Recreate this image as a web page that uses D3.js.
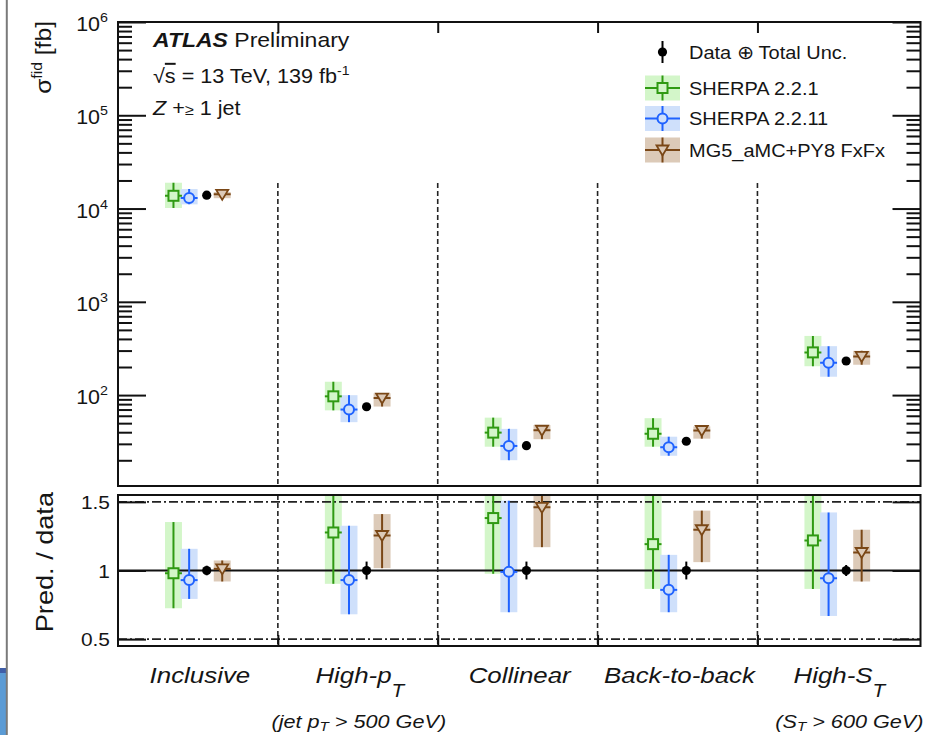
<!DOCTYPE html>
<html>
<head>
<meta charset="utf-8">
<script src="https://cdn.jsdelivr.net/npm/d3@7"></script>
<style>
  body { margin: 0; background: #fff; }
  svg { display: block; }
  text { font-family: "Liberation Sans", Arial, Helvetica, sans-serif; fill: #151515; }
</style>
</head>
<body>
<svg id="chart" width="929" height="735"></svg>
<script>
// ---- data -------------------------------------------------------------
const categories   = ["Inclusive", "High-p", "Collinear", "Back-to-back", "High-S"];
const categorySubs = ["", "T", "", "", "T"];
const categoryNote = ["", ["(jet p", "T", " > 500 GeV)"], "", "", ["(S", "T", " > 600 GeV)"]];

// fiducial cross sections [fb]
const xsecData     = [13900, 75, 28.7, 32.0, 232];
const xsecSherpa221  = [13700, 97, 39.6, 38.5, 287];
const xsecSherpa2211 = [13000, 70, 28.5, 27.6, 222];
const xsecMG5        = [14200, 93, 42.0, 41.7, 260];

// prediction / data ratios and their uncertainty envelopes
const ratioSherpa221   = [0.98, 1.277, 1.382, 1.192, 1.219];
const ratioSherpa221Lo = [0.725, 0.903, 0.976, 0.866, 0.866];
const ratioSherpa221Hi = [1.353, 1.83, 2.00, 1.75, 1.83];
const ratioSherpa2211   = [0.93, 0.93, 0.99, 0.859, 0.944];
const ratioSherpa2211Lo = [0.793, 0.681, 0.696, 0.696, 0.669];
const ratioSherpa2211Hi = [1.158, 1.326, 1.509, 1.114, 1.423];
const ratioMG5   = [1.012, 1.255, 1.46, 1.297, 1.131];
const ratioMG5Lo = [0.92, 1.017, 1.17, 1.061, 0.92];
const ratioMG5Hi = [1.073, 1.411, 1.66, 1.436, 1.297];
const dataRelErr = [0.035, 0.065, 0.065, 0.065, 0.04];

const yMajorTicks = [1e2, 1e3, 1e4, 1e5, 1e6];
const ratioTicks  = [0.5, 1, 1.5];
const legendLabels = ["Data \u2295 Total Unc.", "SHERPA 2.2.1", "SHERPA 2.2.11", "MG5_aMC+PY8 FxFx"];

// ---- styling ----------------------------------------------------------
const predictions = [
  { name: legendLabels[1], xsec: xsecSherpa221, r: ratioSherpa221, lo: ratioSherpa221Lo, hi: ratioSherpa221Hi,
    line: "#2f9a12", band: "#d3f6c9", marker: "square", off: -0.153 },
  { name: legendLabels[2], xsec: xsecSherpa2211, r: ratioSherpa2211, lo: ratioSherpa2211Lo, hi: ratioSherpa2211Hi,
    line: "#1f62ff", band: "#cfe0fb", marker: "circle", off: -0.055 },
  { name: legendLabels[3], xsec: xsecMG5, r: ratioMG5, lo: ratioMG5Lo, hi: ratioMG5Hi,
    line: "#7a4716", band: "#dccab8", marker: "triangle", off: 0.152 }
];
const dataOff = 0.055;
const halfBand = 0.053;

const svg = d3.select("#chart");
const FONT_SX = 1.13;

// frame geometry
const L = 118, R = 920.5;
const T1 = 22, B1 = 486;   // upper panel
const T2 = 495, B2 = 646;  // ratio panel

const x = d3.scaleLinear().domain([0, 5.02]).range([L, R]);
const y = d3.scaleLog().domain([10.6, 1e6]).range([B1, T1]);
const yr = d3.scaleLinear().domain([0.45, 1.55]).range([B2, T2]);

// decorations at the left border
svg.append("rect").attr("x", 0).attr("y", 668).attr("width", 6).attr("height", 67).attr("fill", "#5b9bd5");
svg.append("rect").attr("x", 0).attr("y", 668).attr("width", 6).attr("height", 5).attr("fill", "#3f5ea8");
svg.append("line").attr("x1", 6.8).attr("x2", 6.8).attr("y1", 0).attr("y2", 735)
  .attr("stroke", "#7a7a7a").attr("stroke-width", 2);

// helper for horizontally stretched text
function txt(g, px, py, size, opts = {}) {
  const rot = opts.rotate ? ` rotate(${opts.rotate})` : "";
  return g.append("text")
    .attr("transform", `translate(${px},${py})${rot} scale(${opts.sx || FONT_SX},1)`)
    .attr("font-size", size)
    .attr("text-anchor", opts.anchor || "start")
    .attr("font-style", opts.italic ? "italic" : null);
}

// clip paths
const defs = svg.append("defs");
defs.append("clipPath").attr("id", "clipTop").append("rect").attr("x", L).attr("y", T1).attr("width", R - L).attr("height", B1 - T1);
defs.append("clipPath").attr("id", "clipRat").append("rect").attr("x", L).attr("y", T2).attr("width", R - L).attr("height", B2 - T2);

// ---- axes ticks -----------------------------------------------------------
function minorLogTicks() {
  const out = [];
  for (let e = 1; e < 6; e++) for (let k = 2; k <= 9; k++) {
    const v = k * Math.pow(10, e);
    if (v > y.domain()[0] && v < y.domain()[1]) out.push(v);
  }
  return out;
}
function styleAxis(g) {
  g.select(".domain").remove();
  g.selectAll("line").attr("stroke", "#111").attr("stroke-width", 2);
  g.selectAll("text").remove();
}
const upperAxes = svg.append("g");
upperAxes.append("g").attr("transform", `translate(${L},0)`).call(d3.axisLeft(y).tickValues(yMajorTicks).tickSize(-28)).call(styleAxis);
upperAxes.append("g").attr("transform", `translate(${L},0)`).call(d3.axisLeft(y).tickValues(minorLogTicks()).tickSize(-14)).call(styleAxis);
upperAxes.append("g").attr("transform", `translate(${R},0)`).call(d3.axisRight(y).tickValues(yMajorTicks).tickSize(-28)).call(styleAxis);
upperAxes.append("g").attr("transform", `translate(${R},0)`).call(d3.axisRight(y).tickValues(minorLogTicks()).tickSize(-14)).call(styleAxis);
upperAxes.append("g").attr("transform", `translate(0,${T1})`).call(d3.axisTop(x).tickValues([1, 2, 3, 4]).tickSize(-11)).call(styleAxis);

// category separators
[1, 2, 3, 4].forEach(b => {
  upperAxes.append("line").attr("x1", x(b)).attr("x2", x(b)).attr("y1", 183).attr("y2", B1)
    .attr("stroke", "#222").attr("stroke-width", 1.6).attr("stroke-dasharray", "5,3");
});

// y tick labels (10^n)
yMajorTicks.forEach(v => {
  const t = txt(svg, 108, y(v) + 9, 19.5, { anchor: "end", sx: 1.1 });
  t.append("tspan").text("10");
  t.append("tspan").attr("dy", -9).attr("font-size", 13).text(Math.round(Math.log10(v)));
});

// ---- markers ------------------------------------------------------------
function marker(g, type, cx, cy, color, fill) {
  if (type === "square") {
    g.append("rect").attr("x", cx - 5).attr("y", cy - 5).attr("width", 10).attr("height", 10)
      .attr("fill", fill).attr("stroke", color).attr("stroke-width", 2);
  } else if (type === "circle") {
    g.append("circle").attr("cx", cx).attr("cy", cy).attr("r", 5)
      .attr("fill", fill).attr("stroke", color).attr("stroke-width", 2);
  } else if (type === "triangle") {
    g.append("path").attr("d", `M${cx - 6},${cy - 4.5}L${cx + 6},${cy - 4.5}L${cx},${cy + 5.5}Z`)
      .attr("fill", fill).attr("stroke", color).attr("stroke-width", 1.8).attr("stroke-linejoin", "miter");
  } else if (type === "dot") {
    g.append("circle").attr("cx", cx).attr("cy", cy).attr("r", 4.6).attr("fill", color);
  }
}

function drawPrediction(g, p, i, yScale, val, lo, hi) {
  const cx = x(i + 0.5 + p.off);
  const xl = x(i + 0.5 + p.off - halfBand), xr = x(i + 0.5 + p.off + halfBand);
  g.append("rect").attr("x", xl).attr("width", xr - xl)
    .attr("y", yScale(hi)).attr("height", yScale(lo) - yScale(hi)).attr("fill", p.band);
  return { cx, xl, xr, yv: yScale(val), ylo: yScale(lo), yhi: yScale(hi) };
}
function drawBars(g, p, geo) {
  g.append("line").attr("x1", geo.cx).attr("x2", geo.cx).attr("y1", geo.yhi).attr("y2", geo.ylo)
    .attr("stroke", p.line).attr("stroke-width", 2);
  g.append("line").attr("x1", geo.xl).attr("x2", geo.xr).attr("y1", geo.yv).attr("y2", geo.yv)
    .attr("stroke", p.line).attr("stroke-width", 2);
  marker(g, p.marker, geo.cx, geo.yv, p.line, p.band);
}

// ---- upper panel ----------------------------------------------------------
const gTop = svg.append("g").attr("clip-path", "url(#clipTop)");
const topGeo = predictions.map(p => categories.map((c, i) => {
  const v = p.xsec[i];
  return drawPrediction(gTop, p, i, y, v, v * p.lo[i] / p.r[i], v * p.hi[i] / p.r[i]);
}));
predictions.forEach((p, k) => categories.forEach((c, i) => drawBars(gTop, p, topGeo[k][i])));
categories.forEach((c, i) => {
  const cx = x(i + 0.5 + dataOff), v = xsecData[i];
  gTop.append("line").attr("x1", cx).attr("x2", cx)
    .attr("y1", y(v * (1 + dataRelErr[i]))).attr("y2", y(v * (1 - dataRelErr[i])))
    .attr("stroke", "#000").attr("stroke-width", 2);
  marker(gTop, "dot", cx, y(v), "#000");
});

svg.append("rect").attr("x", L).attr("y", T1).attr("width", R - L).attr("height", B1 - T1)
  .attr("fill", "none").attr("stroke", "#111").attr("stroke-width", 2);

// ---- ratio panel ----------------------------------------------------------
const rat = svg.append("g");
const gRat = rat.append("g").attr("clip-path", "url(#clipRat)");
const ratGeo = predictions.map(p => categories.map((c, i) => drawPrediction(gRat, p, i, yr, p.r[i], p.lo[i], p.hi[i])));

// reference lines
gRat.append("line").attr("x1", L).attr("x2", R).attr("y1", yr(1)).attr("y2", yr(1))
  .attr("stroke", "#111").attr("stroke-width", 1.8);
[0.5, 1.5].forEach(v => {
  gRat.append("line").attr("x1", L).attr("x2", R).attr("y1", yr(v)).attr("y2", yr(v))
    .attr("stroke", "#222").attr("stroke-width", 1.6).attr("stroke-dasharray", "9,3,2,3");
});
[1, 2, 3, 4].forEach(b => {
  gRat.append("line").attr("x1", x(b)).attr("x2", x(b)).attr("y1", T2).attr("y2", B2)
    .attr("stroke", "#222").attr("stroke-width", 1.6).attr("stroke-dasharray", "5,3");
});
rat.append("g").attr("transform", `translate(${L},0)`).call(d3.axisLeft(yr).tickValues(ratioTicks).tickSize(-28)).call(styleAxis);
rat.append("g").attr("transform", `translate(${R},0)`).call(d3.axisRight(yr).tickValues(ratioTicks).tickSize(-28)).call(styleAxis);
rat.append("g").attr("transform", `translate(0,${B2})`).call(d3.axisBottom(x).tickValues([1, 2, 3, 4]).tickSize(-11)).call(styleAxis);

predictions.forEach((p, k) => categories.forEach((c, i) => drawBars(gRat, p, ratGeo[k][i])));
categories.forEach((c, i) => {
  const cx = x(i + 0.5 + dataOff);
  gRat.append("line").attr("x1", cx).attr("x2", cx)
    .attr("y1", yr(1 + dataRelErr[i])).attr("y2", yr(1 - dataRelErr[i]))
    .attr("stroke", "#000").attr("stroke-width", 2);
  marker(gRat, "dot", cx, yr(1), "#000");
});

rat.append("rect").attr("x", L).attr("y", T2).attr("width", R - L).attr("height", B2 - T2)
  .attr("fill", "none").attr("stroke", "#111").attr("stroke-width", 2);

ratioTicks.forEach(v => {
  txt(svg, 110, yr(v) + 7, 19, { anchor: "end", sx: 1.1 }).text(String(v));
});

// ---- axis titles ----------------------------------------------------------
{
  const t = txt(svg, 51, 21, 22, { anchor: "end", rotate: -90, sx: 1.12 });
  t.append("tspan").text("\u03c3");
  t.append("tspan").attr("dy", -9).attr("font-size", 14).text("fid");
  t.append("tspan").attr("dy", 9).text(" [fb]");
}
txt(svg, 53, 492, 23, { anchor: "end", rotate: -90, sx: 1.18 }).text("Pred. / data");

// category labels
categories.forEach((c, i) => {
  const t = txt(svg, x(i + 0.5) + 2, 683, 22.5, { anchor: "middle", italic: true, sx: 1.15 });
  t.append("tspan").text(c);
  if (categorySubs[i]) t.append("tspan").attr("dy", 14).attr("font-size", 18).text(categorySubs[i]);
  const note = categoryNote[i];
  if (note) {
    const n = txt(svg, x(i + 0.5) + (i === 4 ? 12 : 1), 728, 18.5, { anchor: "middle", italic: true, sx: 1.17 });
    n.append("tspan").text(note[0]);
    n.append("tspan").attr("dy", 3).attr("font-size", 13).text(note[1]);
    n.append("tspan").attr("dy", -3).text(note[2]);
  }
});

// ---- labels -------------------------------------------------------------
{
  const a = txt(svg, 153, 47, 20, { sx: 1.15 });
  a.append("tspan").attr("font-weight", "bold").attr("font-style", "italic").text("ATLAS");
  a.append("tspan").text(" Preliminary");
  const b = txt(svg, 153, 83, 20, { sx: 1.08 });
  b.append("tspan").text("\u221a").append("tspan").attr("text-decoration", "overline").text("s");
  b.append("tspan").text(" = 13 TeV, 139 fb");
  b.append("tspan").attr("dy", -8).attr("font-size", 13).text("-1");
  const c = txt(svg, 153, 115, 20, { sx: 1.08 });
  c.append("tspan").attr("font-style", "italic").text("Z");
  c.append("tspan").text(" +");
  c.append("tspan").attr("font-size", 15).text("\u2265");
  c.append("tspan").text(" 1 jet");
}

// ---- legend -------------------------------------------------------------
{
  const lg = svg.append("g");
  const rows = [52, 88, 118.5, 150];
  const mx = 662.5, bx0 = 645, bx1 = 680;
  lg.append("line").attr("x1", mx).attr("x2", mx).attr("y1", rows[0] - 11).attr("y2", rows[0] + 11)
    .attr("stroke", "#000").attr("stroke-width", 2);
  marker(lg, "dot", mx, rows[0], "#000");
  txt(lg, 689, rows[0] + 6.5, 18.5, { sx: 1.08 }).text(legendLabels[0]);
  predictions.forEach((p, k) => {
    const cy = rows[k + 1];
    lg.append("rect").attr("x", bx0).attr("y", cy - 12.5).attr("width", bx1 - bx0).attr("height", 25).attr("fill", p.band);
    lg.append("line").attr("x1", mx).attr("x2", mx).attr("y1", cy - 12.5).attr("y2", cy + 12.5)
      .attr("stroke", p.line).attr("stroke-width", 2);
    lg.append("line").attr("x1", bx0).attr("x2", bx1).attr("y1", cy).attr("y2", cy)
      .attr("stroke", p.line).attr("stroke-width", 2);
    marker(lg, p.marker, mx, cy, p.line, p.band);
    txt(lg, 689, cy + 6.5, 18.5, { sx: 1.08 }).text(p.name);
  });
}
</script>
</body>
</html>
